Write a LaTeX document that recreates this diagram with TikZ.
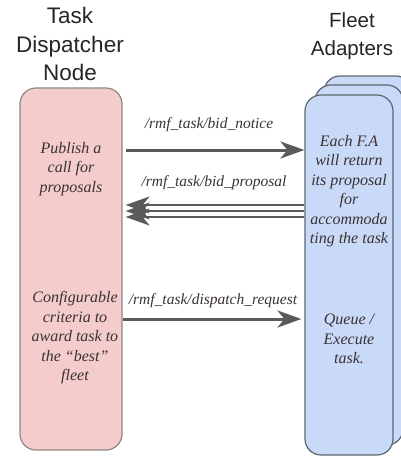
\documentclass[tikz,border=0pt]{standalone}
\usepackage{fontspec}
\setmainfont{Liberation Serif}
\newfontfamily\headfont{Liberation Sans}
\usetikzlibrary{arrows.meta}
\definecolor{pinkfill}{HTML}{F4CCCC}
\definecolor{pinkedge}{HTML}{8E8686}
\definecolor{bluefill}{HTML}{C9DAF8}
\definecolor{blueedge}{HTML}{5E6670}
\definecolor{wire}{HTML}{5A5A5A}
\definecolor{ink}{HTML}{3A3232}
\begin{document}
\begin{tikzpicture}[x=1pt,y=-1pt,
  dispbox/.style={draw=pinkedge, fill=pinkfill, line width=1.2pt, rounded corners=16pt,
    minimum width=102pt, minimum height=362pt, inner sep=0pt},
  fabox/.style={draw=blueedge, fill=bluefill, line width=1.2pt, rounded corners=16pt,
    minimum width=88pt, minimum height=360pt, inner sep=0pt},
  note/.style={text=ink, font=\fontsize{16}{19.5}\selectfont\itshape, align=center, inner sep=0pt},
  topic/.style={text=ink, font=\fontsize{15.5}{18}\selectfont\itshape, inner sep=0pt},
  title/.style={text=black!85, align=center, inner sep=0pt},
  arr/.style={draw=wire, line width=3pt, -{Stealth[length=24pt,width=17pt,inset=7pt]}},
  arrthin/.style={draw=wire, line width=2pt, -{Stealth[length=24pt,width=17pt,inset=7pt]}},
]
\useasboundingbox (0,0) rectangle (401,456);
\clip (0,0) rectangle (401,456);

% headings
\node[title, font=\headfont\fontsize{22.5}{28.5}\selectfont] (ttl) at (70,44) {Task\\Dispatcher\\Node};
\node[title, font=\headfont\fontsize{20.5}{28}\selectfont] (ftl) at (352,36) {Fleet\\Adapters};

% stacked fleet adapter boxes, back to front
\node[fabox] (fa3) at (368,256) {};
\node[fabox] (fa2) at (359,265) {};
\node[fabox] (fa1) at (349,275) {};

% dispatcher box
\node[dispbox] (disp) at (71,269) {};

% box texts
\node[note] (pub) at (71,169) {Publish a\\call for\\proposals};
\node[note] (crit) at (75,338) {Configurable\\criteria to\\award task to\\the ``best''\\fleet};
\node[note] (ret) at (349,191) {Each F.A\\will return\\its proposal\\for\\accommoda\\ting the task};
\node[note] (exe) at (349,339) {Queue /\\Execute\\task.};

% topic connectors
\draw[arr, shorten <=3pt] (disp.east |- 0,150) -- (fa1.west |- 0,150);
\node[topic] (t1) at (209,125) {/rmf\_task/bid\_notice};

\foreach \yy in {205,211,217}
  \draw[arrthin, shorten >=3pt] (fa1.west |- 0,\yy) -- (disp.east |- 0,\yy);
\node[topic] (t2) at (214,183) {/rmf\_task/bid\_proposal};

\draw[arr, shorten >=3pt] (disp.east |- 0,319) -- (fa1.west |- 0,319);
\node[topic] (t3) at (213,301) {/rmf\_task/dispatch\_request};
\end{tikzpicture}
\end{document}
